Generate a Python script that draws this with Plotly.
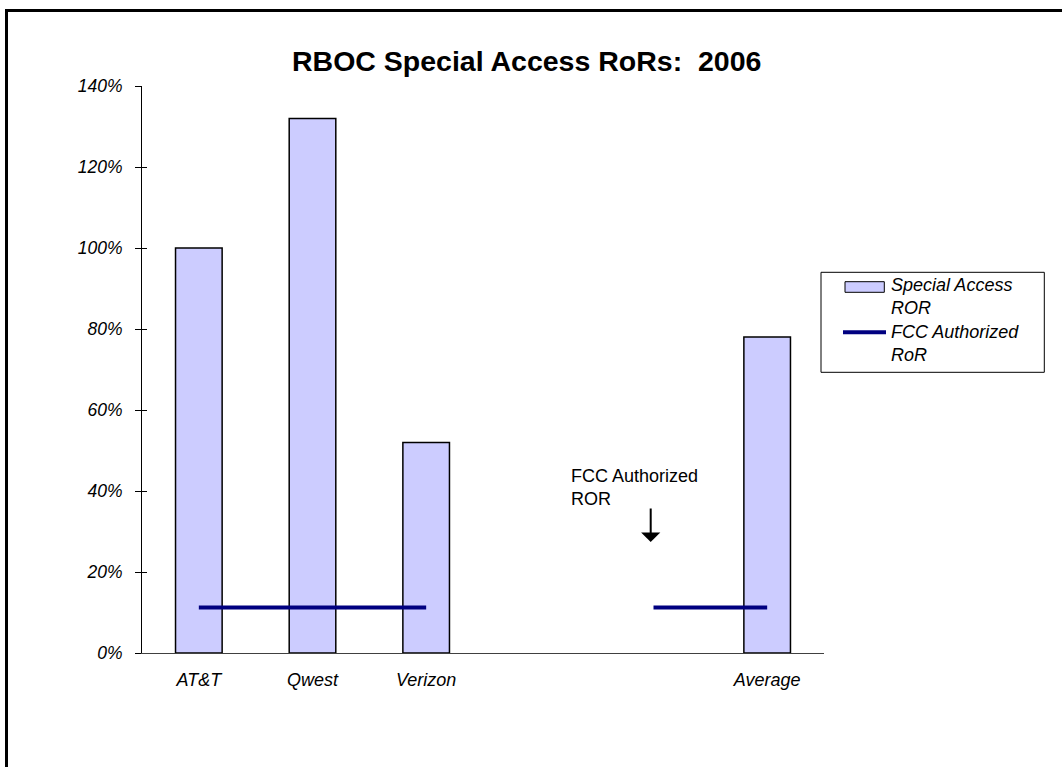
import plotly.graph_objects as go

# ---- data ----
categories = ["AT&T", "Qwest", "Verizon", "", "", "Average"]
special_access_ror = [1.00, 1.32, 0.52, None, None, 0.78]
fcc_authorized_ror = [0.1125, 0.1125, 0.1125, None, 0.1125, 0.1125]
y_tick_values = [0, 0.2, 0.4, 0.6, 0.8, 1.0, 1.2, 1.4]
title_text = "RBOC Special Access RoRs: \u00a02006"
series_names = ["Special Access<br>ROR", "FCC Authorized<br>RoR"]
note_text = "FCC Authorized<br>ROR"

BAR_COLOR = "#CCCCFF"
LINE_COLOR = "#000080"
positions = list(range(len(categories)))
FONT = "Liberation Sans, Arial, sans-serif"

# plot area in page pixels
PL, PT, PW, PH = 142, 86, 682, 567


def px(x):
    return (x - PL) / PW


def py(y):
    return (PT + PH - y) / PH


fig = go.Figure()
fig.add_trace(go.Bar(
    x=positions, y=special_access_ror, name=series_names[0],
    width=0.41,
    marker=dict(color=BAR_COLOR, line=dict(color="black", width=1.5)),
))
fig.add_trace(go.Scatter(
    x=positions, y=fcc_authorized_ror, name=series_names[1],
    mode="lines", connectgaps=False,
    line=dict(color=LINE_COLOR, width=4),
))
# dummy trace to activate the inside half of the cross ticks
fig.add_trace(go.Scatter(x=[None], y=[None], yaxis="y2", showlegend=False, hoverinfo="skip"))

legend_font = dict(family=FONT, size=18, style="italic", color="black")

shapes = [
    # outer frame
    dict(type="rect", xref="paper", yref="paper",
         x0=px(6.5), x1=2.0, y0=-1.0, y1=py(10.5),
         line=dict(color="black", width=3), fillcolor="rgba(0,0,0,0)", layer="below"),
    # legend box
    dict(type="rect", xref="paper", yref="paper",
         x0=px(821), x1=px(1044.3), y0=py(372.3), y1=py(272.3),
         line=dict(color="black", width=1), fillcolor="white", layer="above"),
    # legend swatch: bar
    dict(type="rect", xref="paper", yref="paper",
         x0=px(845), x1=px(884.3), y0=py(292.3), y1=py(281.7),
         line=dict(color="black", width=1), fillcolor=BAR_COLOR, layer="above"),
    # legend swatch: line
    dict(type="line", xref="paper", yref="paper",
         x0=px(843), x1=px(886), y0=py(332.3), y1=py(332.3),
         line=dict(color=LINE_COLOR, width=4), layer="above"),
]

annotations = [
    dict(text=note_text, xref="paper", yref="paper",
         x=px(569), y=py(464), xanchor="left", yanchor="top",
         align="left", showarrow=False, font=dict(family=FONT, size=18, color="black")),
    dict(text="", xref="paper", yref="paper",
         x=px(650.7), y=py(542), ax=0, ay=-35,
         showarrow=True, arrowhead=1, arrowsize=1.6, arrowwidth=2, arrowcolor="black"),
    dict(text=series_names[0], xref="paper", yref="paper",
         x=px(889.5), y=py(273), xanchor="left", yanchor="top",
         align="left", showarrow=False, font=legend_font),
    dict(text=series_names[1], xref="paper", yref="paper",
         x=px(889.5), y=py(320), xanchor="left", yanchor="top",
         align="left", showarrow=False, font=legend_font),
]

fig.update_layout(
    width=1062, height=767,
    margin=dict(l=PL, r=1062 - PL - PW, t=PT, b=767 - PT - PH, pad=0),
    paper_bgcolor="white", plot_bgcolor="white",
    font=dict(family=FONT, color="black", size=18),
    title=dict(text="<b>" + title_text + "</b>", x=526.7 / 1062, xref="container",
               xanchor="center", y=1 - 61 / 767, yref="container", yanchor="middle",
               font=dict(family=FONT, size=28.5, color="black")),
    showlegend=False,
    xaxis=dict(range=[-0.5, len(categories) - 0.5], tickvals=positions, ticktext=categories,
               showgrid=False, zeroline=False, showline=True, linecolor="#404040", linewidth=1,
               ticks="", tickfont=dict(family=FONT, size=18, style="italic", color="black"),
               ticklabelstandoff=10, fixedrange=True),
    yaxis=dict(range=[0, 1.4], tickvals=y_tick_values, tickformat=".0%",
               showgrid=False, zeroline=False, showline=True, linecolor="black", linewidth=1,
               ticks="outside", ticklen=6, tickcolor="black", tickwidth=1,
               tickfont=dict(family=FONT, size=17.5, style="italic", color="black"),
               ticklabelstandoff=9),
    yaxis2=dict(range=[0, 1.4], tickvals=y_tick_values, overlaying="y", side="left",
                showticklabels=False, showgrid=False, zeroline=False, showline=False,
                ticks="inside", ticklen=5, tickcolor="black", tickwidth=1),
    shapes=shapes,
    annotations=annotations,
)

fig.write_html("out.html", config={"displayModeBar": False},
               post_script="document.body.style.margin='0';")
